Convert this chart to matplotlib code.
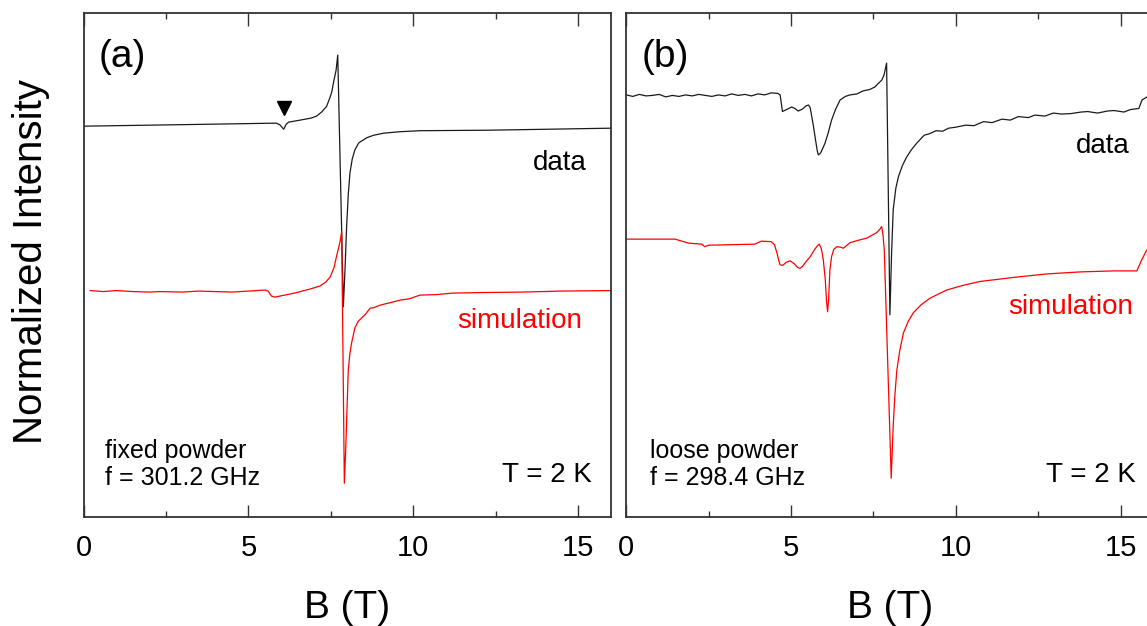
import matplotlib
matplotlib.use("Agg")
import matplotlib.pyplot as plt
from matplotlib.ticker import MultipleLocator, NullLocator

plt.rcParams['font.family'] = ['Liberation Sans', 'DejaVu Sans']

# (a) fixed powder, f = 301.2 GHz
a_data_B = [0.0, 3.0, 5.85, 5.95, 6.07, 6.15, 6.22, 6.57, 6.9, 7.07, 7.22, 7.37,
            7.47, 7.53, 7.58, 7.66, 7.71, 7.88, 7.93, 7.98, 8.03, 8.08, 8.15,
            8.23, 8.35, 8.59, 8.8, 9.09, 9.6, 10.2, 12.3, 16.0]
a_data_I = [0.775, 0.778, 0.781, 0.778, 0.769, 0.779, 0.783, 0.787, 0.791, 0.795,
            0.803, 0.814, 0.831, 0.843, 0.861, 0.886, 0.916, 0.417, 0.490, 0.576,
            0.640, 0.682, 0.710, 0.728, 0.742, 0.752, 0.757, 0.761, 0.764, 0.766,
            0.767, 0.771]

a_sim_B = [0.2, 0.6, 1.0, 1.5, 2.0, 2.3, 3.0, 3.5, 4.0, 4.5, 5.0, 5.5, 5.6, 5.7,
           5.8, 6.1, 6.4, 6.87, 7.17, 7.35, 7.48, 7.6, 7.67, 7.74, 7.78, 7.83,
           7.91, 7.95, 7.98, 8.03, 8.08, 8.13, 8.23, 8.33, 8.44, 8.55, 8.69, 8.8,
           8.99, 9.3, 9.6, 9.9, 10.2, 10.7, 11.2, 12.0, 13.3, 14.5, 16.0]
a_sim_I = [0.449, 0.447, 0.449, 0.447, 0.446, 0.447, 0.446, 0.448, 0.447, 0.446,
           0.448, 0.450, 0.448, 0.438, 0.436, 0.440, 0.444, 0.452, 0.458, 0.466,
           0.476, 0.495, 0.516, 0.535, 0.546, 0.566, 0.067, 0.130, 0.192, 0.291,
           0.325, 0.345, 0.375, 0.388, 0.395, 0.402, 0.414, 0.415, 0.420, 0.425,
           0.430, 0.433, 0.440, 0.441, 0.444, 0.445, 0.446, 0.448, 0.449]

# (b) loose powder, f = 298.4 GHz
b_data_B = [0.0, 0.2, 0.4, 0.6, 0.8, 1.0, 1.2, 1.4, 1.6, 1.8, 2.0, 2.2, 2.4, 2.6,
            2.8, 3.0, 3.2, 3.4, 3.6, 3.8, 4.0, 4.2, 4.4, 4.6, 4.67, 4.74, 4.8,
            4.9, 5.02, 5.12, 5.22, 5.35, 5.45, 5.53, 5.58, 5.63, 5.68, 5.75, 5.8,
            5.83, 5.9, 5.97, 6.03, 6.13, 6.23, 6.35, 6.49, 6.65, 6.79, 7.0, 7.19,
            7.4, 7.55, 7.65, 7.75, 7.82, 7.86, 7.9, 8.0, 8.05, 8.1, 8.18, 8.26,
            8.38, 8.51, 8.65, 8.81, 9.04, 9.2, 9.4, 9.6, 9.78, 10.0, 10.3, 10.55,
            10.84, 11.1, 11.4, 11.65, 11.9, 12.2, 12.4, 12.7, 12.96, 13.2, 13.5,
            13.8, 14.0, 14.3, 14.6, 14.8, 15.1, 15.3, 15.55, 15.65, 15.8, 16.0]
b_data_I = [0.837, 0.834, 0.838, 0.835, 0.836, 0.838, 0.833, 0.836, 0.834, 0.837,
            0.835, 0.838, 0.836, 0.834, 0.837, 0.835, 0.839, 0.836, 0.838, 0.835,
            0.839, 0.837, 0.841, 0.840, 0.837, 0.804, 0.806, 0.809, 0.813, 0.810,
            0.805, 0.809, 0.815, 0.817, 0.812, 0.794, 0.775, 0.745, 0.725, 0.718,
            0.722, 0.732, 0.741, 0.762, 0.787, 0.808, 0.827, 0.834, 0.837, 0.839,
            0.845, 0.848, 0.853, 0.860, 0.866, 0.876, 0.888, 0.900, 0.401, 0.520,
            0.609, 0.652, 0.675, 0.697, 0.714, 0.728, 0.741, 0.757, 0.760, 0.766,
            0.765, 0.771, 0.773, 0.777, 0.776, 0.784, 0.782, 0.789, 0.787, 0.794,
            0.792, 0.797, 0.795, 0.801, 0.799, 0.800, 0.803, 0.804, 0.801, 0.805,
            0.806, 0.803, 0.808, 0.810, 0.827, 0.833, 0.837]

b_sim_B = [0.0, 1.48, 1.9, 2.3, 2.38, 2.5, 3.9, 4.1, 4.4, 4.5, 4.58, 4.63, 4.67,
           4.75, 4.85, 4.97, 5.1, 5.2, 5.27, 5.35, 5.45, 5.58, 5.72, 5.82, 5.86,
           5.92, 5.98, 6.04, 6.08, 6.11, 6.14, 6.18, 6.23, 6.3, 6.39, 6.5, 6.59,
           6.68, 6.79, 7.0, 7.3, 7.6, 7.7, 7.75, 7.79, 7.83, 8.04, 8.1, 8.15, 8.21,
           8.3, 8.41, 8.55, 8.71, 8.95, 9.22, 9.72, 10.2, 10.73, 11.74, 12.76,
           13.77, 14.78, 15.49, 15.64, 15.79, 16.0]
b_sim_I = [0.551, 0.551, 0.543, 0.541, 0.536, 0.539, 0.541, 0.547, 0.546, 0.540,
           0.522, 0.508, 0.500, 0.499, 0.505, 0.508, 0.502, 0.495, 0.493, 0.497,
           0.506, 0.516, 0.531, 0.539, 0.541, 0.532, 0.510, 0.470, 0.425, 0.407,
           0.430, 0.490, 0.516, 0.531, 0.536, 0.535, 0.533, 0.538, 0.544, 0.548,
           0.553, 0.564, 0.571, 0.576, 0.560, 0.529, 0.077, 0.180, 0.240, 0.291,
           0.330, 0.365, 0.387, 0.405, 0.421, 0.434, 0.450, 0.459, 0.467, 0.475,
           0.482, 0.486, 0.488, 0.488, 0.510, 0.529, 0.539]

marker_B, marker_I = 6.07, 0.811

panels = [
    dict(left=83.6, tag='(a)', data=(a_data_B, a_data_I), sim=(a_sim_B, a_sim_I),
         sample='fixed powder\nf = 301.2 GHz', data_pos=(0.9545, 0.688),
         sim_pos=(0.945, 0.375), info_x=0.0398, temp_x=0.964),
    dict(left=626.2, tag='(b)', data=(b_data_B, b_data_I), sim=(b_sim_B, b_sim_I),
         sample='loose powder\nf = 298.4 GHz', data_pos=(0.955, 0.721),
         sim_pos=(0.9615, 0.4035), info_x=0.045, temp_x=0.9655),
]

W, H = 1147, 626
fig = plt.figure(figsize=(W / 100, H / 100), dpi=100)

for p in panels:
    ax = fig.add_axes([p['left'] / W, (H - 517) / H, 527.4 / W, 504.3 / H])
    ax.plot(*p['data'], color='#1a1a1a', lw=0.9)
    ax.plot(*p['sim'], color='#ff0000', lw=0.9)
    ax.set_xlim(0, 16)
    ax.set_ylim(0, 1)
    ax.xaxis.set_major_locator(MultipleLocator(5))
    ax.xaxis.set_minor_locator(MultipleLocator(2.5))
    ax.yaxis.set_major_locator(NullLocator())
    ax.tick_params(axis='x', which='both', direction='in', top=True, bottom=True,
                   labelsize=21, pad=12, width=1.0, color='#333333')
    ax.tick_params(axis='x', which='major', length=9)
    ax.tick_params(axis='x', which='minor', length=4.5)
    for s in ax.spines.values():
        s.set_linewidth(1.3)
        s.set_color('#333333')
    ax.set_xlabel('B (T)', fontsize=28)
    ax.xaxis.set_label_coords(0.5, -0.145)

    ax.text(0.029, 0.912, p['tag'], transform=ax.transAxes, fontsize=28,
            ha='left', va='center')
    ax.text(*p['data_pos'], 'data', transform=ax.transAxes, fontsize=20,
            ha='right', va='baseline')
    ax.text(*p['sim_pos'], 'simulation', transform=ax.transAxes, fontsize=20,
            ha='right', va='baseline', color='#ff0000')
    ax.text(p['info_x'], 0.0635, p['sample'], transform=ax.transAxes, fontsize=18,
            ha='left', va='baseline', linespacing=1.15)
    ax.text(p['temp_x'], 0.070, 'T = 2 K', transform=ax.transAxes, fontsize=20,
            ha='right', va='baseline')
    if p['tag'] == '(a)':
        ax.plot(marker_B, marker_I, marker='v', color='black', ms=10, ls='none')

fig.text(31 / W, 1 - 262 / H, 'Normalized Intensity', rotation=90, fontsize=29,
         ha='center', va='center')

fig.savefig('out.png', dpi=100)
